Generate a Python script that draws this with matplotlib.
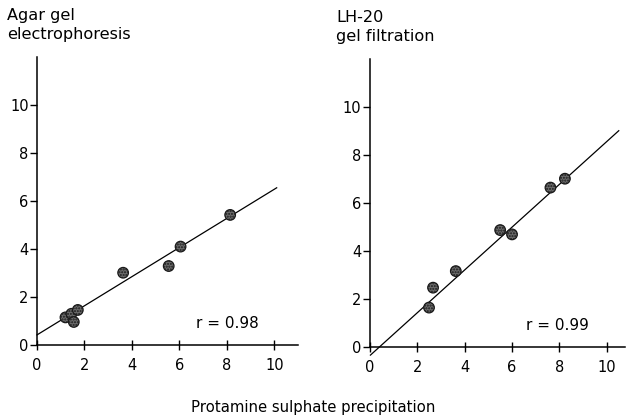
import matplotlib
matplotlib.use("Agg")
import matplotlib.pyplot as plt
import numpy as np

plt.rcParams['font.family'] = ['DejaVu Sans']

# Agar gel electrophoresis vs protamine sulphate precipitation
agar_x = [1.2, 1.45, 1.55, 1.72, 3.63, 5.55, 6.05, 8.14]
agar_y = [1.15, 1.3, 0.96, 1.46, 3.01, 3.29, 4.1, 5.42]
agar_fit_x = [0.0, 10.1]
agar_fit_y = [0.42, 6.55]
agar_r = "r = 0.98"

# LH-20 gel filtration vs protamine sulphate precipitation
lh_x = [2.5, 2.67, 3.63, 5.5, 6.0, 7.62, 8.23]
lh_y = [1.63, 2.46, 3.15, 4.86, 4.68, 6.63, 7.0]
lh_fit_x = [0.03, 10.5]
lh_fit_y = [-0.35, 9.0]
lh_r = "r = 0.99"

ticks = [0, 2, 4, 6, 8, 10]
xlabel = "Protamine sulphate precipitation"

fig = plt.figure(figsize=(6.26, 4.2), dpi=100)

panels = [
    dict(rect=[0.0591, 0.1786, 0.417, 0.6857], xmax=11.0,
         x=agar_x, y=agar_y, fx=agar_fit_x, fy=agar_fit_y, r=agar_r,
         rpos=(6.72, 0.71), title="Agar gel\nelectrophoresis", tpos=(7, 8)),
    dict(rect=[0.5906, 0.1745, 0.4073, 0.6857], xmax=10.75,
         x=lh_x, y=lh_y, fx=lh_fit_x, fy=lh_fit_y, r=lh_r,
         rpos=(6.6, 0.7), title="LH-20\ngel filtration", tpos=(336, 10)),
]

for p in panels:
    ax = fig.add_axes(p['rect'])
    ax.set_xlim(0, p['xmax'])
    ax.set_ylim(0, 12)
    for s in ('top', 'right'):
        ax.spines[s].set_visible(False)
    for s in ('left', 'bottom'):
        ax.spines[s].set_linewidth(1.1)
    ax.set_xticks(ticks)
    ax.set_yticks(ticks)
    ax.tick_params(axis='x', direction='inout', length=7, width=1.0,
                   labelsize=10.5, pad=6)
    ax.tick_params(axis='y', direction='out', length=5, width=1.0,
                   labelsize=10.5, pad=1)
    ax.plot(p['fx'], p['fy'], color='black', lw=0.9, clip_on=False, zorder=2)
    ax.scatter(p['x'], p['y'], s=58, facecolor='#6b6b6b', edgecolor='#1a1a1a',
               linewidth=0.9, hatch='......', zorder=3, clip_on=False)
    ax.text(p['rpos'][0], p['rpos'][1], p['r'], fontsize=11, ha='left',
            va='baseline')
    fig.text(p['tpos'][0] / 626, 1 - p['tpos'][1] / 420, p['title'],
             fontsize=11.6, ha='left', va='top', linespacing=1.3)
    ax.patch.set_alpha(0)

fig.text(313 / 626, 1 - 412 / 420, xlabel, fontsize=10.7, ha='center',
         va='baseline')

fig.savefig("out.png", dpi=100)
